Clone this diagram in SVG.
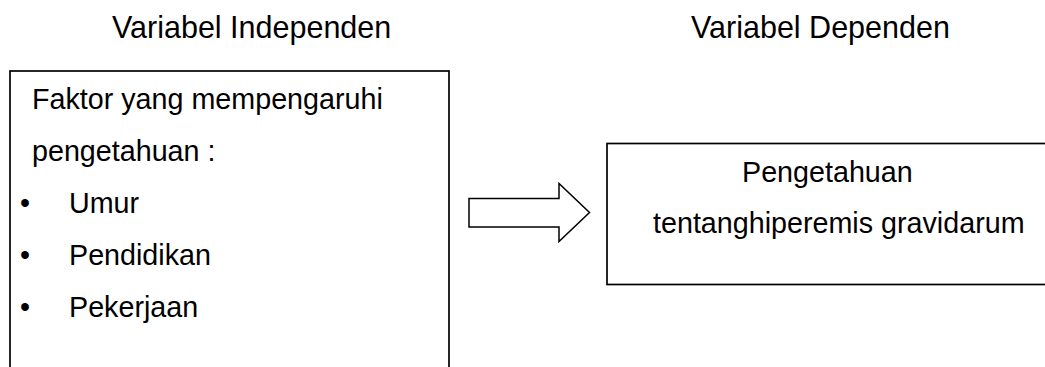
<svg xmlns="http://www.w3.org/2000/svg" width="1045" height="367" viewBox="0 0 1045 367">
<style>
.t{font-family:"Liberation Sans",Arial,sans-serif;font-size:28.7px;fill:#000}
.h{font-family:"Liberation Sans",Arial,sans-serif;font-size:30.5px;fill:#000}
.box{fill:#fff;stroke:#000;stroke-width:1.7}
</style>
<rect width="1045" height="367" fill="#fff"/>
<g id="title-independen"><text class="h" x="112" y="38">Variabel Independen</text></g>
<g id="title-dependen"><text class="h" x="691" y="38">Variabel Dependen</text></g>
<g id="node-faktor">
<rect class="box" x="10" y="71" width="439" height="320"/>
<text class="t" x="32" y="108.7">Faktor yang mempengaruhi</text>
<text class="t" x="32" y="160.7">pengetahuan :</text>
<text class="t" x="20" y="212.7">•</text>
<text class="t" x="69" y="212.7">Umur</text>
<text class="t" x="20" y="264.7">•</text>
<text class="t" x="69" y="264.7">Pendidikan</text>
<text class="t" x="20" y="316.7">•</text>
<text class="t" x="69" y="316.7">Pekerjaan</text>
</g>
<g id="node-pengetahuan">
<rect class="box" x="607" y="143.5" width="460" height="141"/>
<text class="t" x="742" y="181.7">Pengetahuan</text>
<text class="t" x="653" y="233.3">tentanghiperemis gravidarum</text>
</g>
<g id="connectors">
<polygon points="469,198.5 559,198.5 559,183.5 589.5,212.5 559,241.5 559,227 469,227" fill="#fff" stroke="#000" stroke-width="1.5"/>
</g>
</svg>
